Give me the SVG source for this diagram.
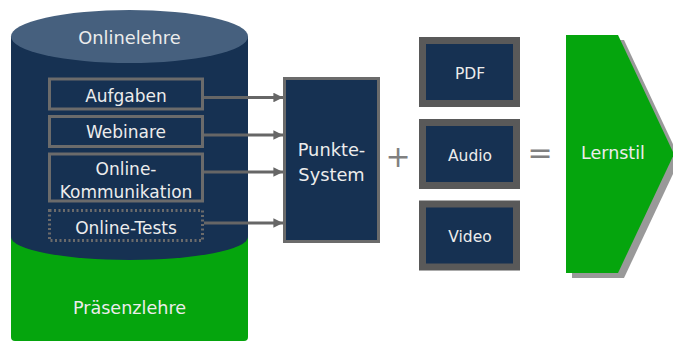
<svg xmlns="http://www.w3.org/2000/svg" width="673" height="342" viewBox="0 0 673 342">
<defs>
<style>
.t{font-family:"DejaVu Sans","Liberation Sans",sans-serif;fill:#ececec;text-anchor:middle}
.box{fill:#163152;stroke:#6b6b6b;stroke-width:3}
.media{fill:#163152;stroke:#595959;stroke-width:7}
.conn{stroke:#666;stroke-width:3;fill:none}
.op{font-family:"DejaVu Sans","Liberation Sans",sans-serif;fill:#808080;text-anchor:middle}
</style>
<marker id="ah" viewBox="0 0 10 10" refX="10" refY="5" markerWidth="3.2" markerHeight="3.2" orient="auto" markerUnits="strokeWidth">
<path d="M0,0 L10,5 L0,10 z" fill="#666"/>
</marker>
</defs>
<rect width="673" height="342" fill="#fff"/>
<g id="cylinder">
<path d="M11,230 L248,230 L248,337 Q248,341 244,341 L15,341 Q11,341 11,337 Z" fill="#05a50d"/>
<path d="M11,37 L248,37 L248,237 A118.5,23 0 0 1 11,237 Z" fill="#163152"/>
<ellipse cx="129.5" cy="36.5" rx="118.5" ry="26.5" fill="#46607e"/>
<text class="t" x="129.5" y="44" font-size="17.8">Onlinelehre</text>
<text class="t" x="129.5" y="314" font-size="17.6">Präsenzlehre</text>
</g>
<g id="aufgaben">
<rect class="box" x="49.5" y="79" width="153" height="30"/>
<text class="t" x="126" y="101.5" font-size="17">Aufgaben</text>
</g>
<g id="webinare">
<rect class="box" x="49.5" y="116.5" width="153" height="30"/>
<text class="t" x="126" y="137.5" font-size="17">Webinare</text>
</g>
<g id="kommunikation">
<rect class="box" x="49.5" y="154" width="153" height="47"/>
<text class="t" x="126" y="174.5" font-size="17">Online-</text>
<text class="t" x="126" y="197.5" font-size="17">Kommunikation</text>
</g>
<g id="tests">
<rect x="49.5" y="210.5" width="153" height="30" fill="#163152" stroke="#6b6b6b" stroke-width="3" stroke-dasharray="2,2.5"/>
<text class="t" x="126" y="233.5" font-size="17">Online-Tests</text>
</g>
<g id="connectors">
<line class="conn" x1="204" y1="97.5" x2="283" y2="97.5" marker-end="url(#ah)"/>
<line class="conn" x1="204" y1="135" x2="283" y2="135" marker-end="url(#ah)"/>
<line class="conn" x1="204" y1="172" x2="283" y2="172" marker-end="url(#ah)"/>
<line class="conn" x1="204" y1="223" x2="283" y2="223" marker-end="url(#ah)"/>
</g>
<g id="punkte">
<rect class="box" x="284.5" y="78.5" width="94" height="163"/>
<text class="t" x="331.5" y="156" font-size="17.8">Punkte-</text>
<text class="t" x="331.5" y="181" font-size="17.8">System</text>
</g>
<text class="op" x="398" y="167" font-size="30">+</text>
<g id="pdf">
<rect class="media" x="422.5" y="40.5" width="94" height="63"/>
<text class="t" x="470" y="78.5" font-size="15.5">PDF</text>
</g>
<g id="audio">
<rect class="media" x="422.5" y="122.5" width="94" height="63"/>
<text class="t" x="470" y="160.5" font-size="15.5">Audio</text>
</g>
<g id="video">
<rect class="media" x="422.5" y="204" width="94" height="63"/>
<text class="t" x="470" y="241.5" font-size="15.5">Video</text>
</g>
<text class="op" x="540" y="163" font-size="30">=</text>
<g id="lernstil">
<polygon points="572,40 624,40 680,159 624,278 572,278" fill="#999"/>
<polygon points="566,35 618,35 674,154 618,273 566,273" fill="#05a50d"/>
<text class="t" x="613" y="159" font-size="17.5">Lernstil</text>
</g>
</svg>
